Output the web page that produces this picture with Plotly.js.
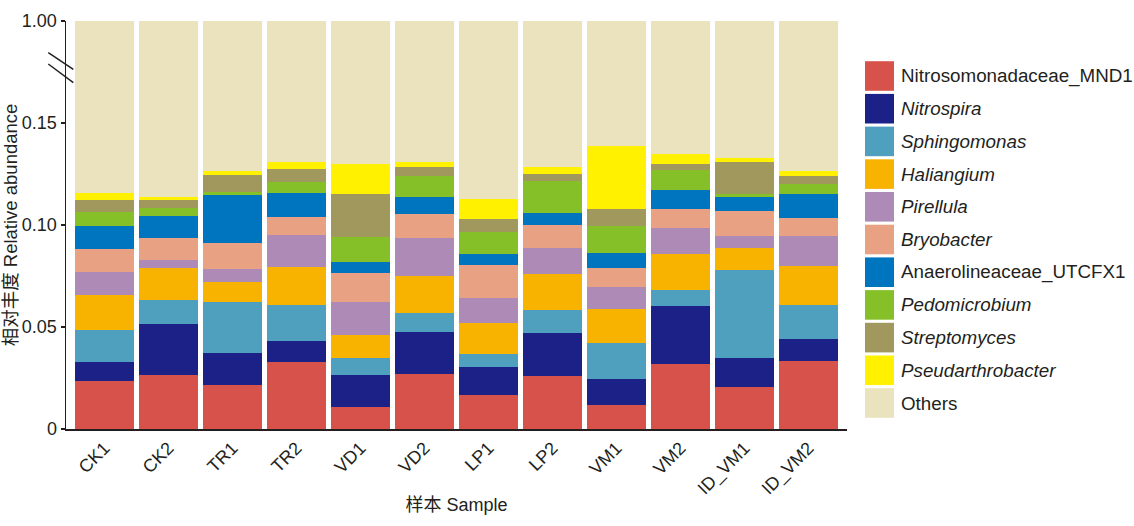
<!DOCTYPE html>
<html>
<head>
<meta charset="utf-8">
<script src="https://cdn.plot.ly/plotly-3.0.1.min.js"></script>
<style>
	html, body { margin: 0; padding: 0; background: #fff; }
	#plot { width: 1134px; height: 526px; }
</style>
</head>
<body>
<div id="plot"></div>
<script>
	// Samples and per-genus relative abundance.
	const samples = ['CK1', 'CK2', 'TR1', 'TR2', 'VD1', 'VD2', 'LP1', 'LP2', 'VM1', 'VM2', 'ID_VM1', 'ID_VM2'];

	const nitrosomonadaceae = [0.0237, 0.0266, 0.0214, 0.0328, 0.0109, 0.0271, 0.0168, 0.0259, 0.0116, 0.0320, 0.0204, 0.0331];
	const nitrospira        = [0.0093, 0.0249, 0.0158, 0.0104, 0.0157, 0.0205, 0.0135, 0.0212, 0.0127, 0.0285, 0.0143, 0.0109];
	const sphingomonas      = [0.0156, 0.0119, 0.0249, 0.0178, 0.0083, 0.0093, 0.0064, 0.0111, 0.0178, 0.0077, 0.0431, 0.0168];
	const haliangium        = [0.0173, 0.0155, 0.0098, 0.0184, 0.0111, 0.0183, 0.0153, 0.0178, 0.0168, 0.0177, 0.0108, 0.0193];
	const pirellula         = [0.0109, 0.0041, 0.0065, 0.0157, 0.0165, 0.0182, 0.0124, 0.0129, 0.0109, 0.0124, 0.0061, 0.0145];
	const bryobacter        = [0.0116, 0.0108, 0.0129, 0.0086, 0.0140, 0.0119, 0.0158, 0.0112, 0.0090, 0.0095, 0.0120, 0.0090];
	const anaerolineaceae   = [0.0111, 0.0106, 0.0232, 0.0119, 0.0055, 0.0084, 0.0056, 0.0056, 0.0075, 0.0095, 0.0071, 0.0115];
	const pedomicrobium     = [0.0068, 0.0040, 0.0016, 0.0056, 0.0121, 0.0101, 0.0107, 0.0160, 0.0132, 0.0096, 0.0013, 0.0049];
	const streptomyces      = [0.0059, 0.0041, 0.0085, 0.0062, 0.0210, 0.0045, 0.0066, 0.0034, 0.0085, 0.0031, 0.0157, 0.0038];
	const pseudarthrobacter = [0.0036, 0.0013, 0.0021, 0.0034, 0.0149, 0.0028, 0.0096, 0.0034, 0.0308, 0.0050, 0.0021, 0.0029];
	const others            = [0.8842, 0.8862, 0.8733, 0.8692, 0.8700, 0.8689, 0.8873, 0.8715, 0.8612, 0.8650, 0.8671, 0.8733];

	// Y tick labels (axis is broken: the top tick stands for 1.00).
	const yTickVals = [0, 0.05, 0.10, 0.15, 0.20];
	const yTickText = ['0', '0.05', '0.10', '0.15', '1.00'];

	const series = [
		{ name: 'Nitrosomonadaceae_MND1', values: nitrosomonadaceae, color: '#d6524a', italic: false },
		{ name: 'Nitrospira', values: nitrospira, color: '#1c2188', italic: true },
		{ name: 'Sphingomonas', values: sphingomonas, color: '#4f9fbe', italic: true },
		{ name: 'Haliangium', values: haliangium, color: '#f8b300', italic: true },
		{ name: 'Pirellula', values: pirellula, color: '#ae8ab6', italic: true },
		{ name: 'Bryobacter', values: bryobacter, color: '#e8a183', italic: true },
		{ name: 'Anaerolineaceae_UTCFX1', values: anaerolineaceae, color: '#0075bf', italic: false },
		{ name: 'Pedomicrobium', values: pedomicrobium, color: '#86c029', italic: true },
		{ name: 'Streptomyces', values: streptomyces, color: '#a0985c', italic: true },
		{ name: 'Pseudarthrobacter', values: pseudarthrobacter, color: '#fff100', italic: true },
		{ name: 'Others', values: others, color: '#eae3bd', italic: false }
	];

	const FONT = 'Liberation Sans, Arial, Noto Sans CJK SC, sans-serif';

	const traces = series.map(s => ({
		type: 'bar',
		x: samples,
		y: s.values,
		name: s.name,
		marker: { color: s.color, line: { width: 0 } },
		hoverinfo: 'x+y+name'
	}));

	// Hand-built legend with large swatches, stacked to the right of the plot.
	const shapes = [];
	const annotations = [];
	const plotW = 781, plotH = 408;
	series.forEach((s, i) => {
		const cy = 76 + 32.7 * i;            // pixel centre of the row
		const yc = (429 - cy) / plotH;
		const hh = 14.8 / plotH;
		shapes.push({
			type: 'rect', xref: 'paper', yref: 'paper',
			x0: (865 - 66) / plotW, x1: (894 - 66) / plotW,
			y0: yc - hh, y1: yc + hh,
			fillcolor: s.color, line: { width: 0 }
		});
		annotations.push({
			xref: 'paper', yref: 'paper',
			x: (899 - 66) / plotW, y: yc,
			xanchor: 'left', yanchor: 'middle',
			text: s.italic ? '<i>' + s.name + '</i>' : s.name,
			showarrow: false,
			font: { family: FONT, size: 18.8, color: '#231f20' }
		});
	});

	// Axis break marks.
	[[52.7, 69.3], [64, 82.7]].forEach(([ya, yb]) => {
		shapes.push({
			type: 'line', xref: 'paper', yref: 'paper',
			x0: (48.3 - 66) / plotW, x1: (73.3 - 66) / plotW,
			y0: (429 - ya) / plotH, y1: (429 - yb) / plotH,
			line: { color: '#231f20', width: 1.5 }
		});
	});

	const layout = {
		barmode: 'stack',
		bargap: 0.09,
		showlegend: false,
		width: 1134,
		height: 526,
		margin: { l: 66, r: 287, t: 21, b: 97 },
		paper_bgcolor: '#ffffff',
		plot_bgcolor: '#ffffff',
		font: { family: FONT, color: '#231f20' },
		xaxis: {
			type: 'category',
			range: [-0.6, 11.6],
			tickangle: -45,
			tickfont: { family: FONT, size: 18 },
			showline: true,
			linecolor: '#231f20',
			linewidth: 1.5,
			ticks: '',
			showgrid: false,
			zeroline: false,
			title: { text: '样本 Sample', font: { family: FONT, size: 18 }, standoff: 0 }
		},
		yaxis: {
			range: [0, 0.2],
			tickvals: yTickVals,
			ticktext: yTickText,
			tickfont: { family: FONT, size: 18 },
			showline: true,
			linecolor: '#231f20',
			linewidth: 1.5,
			ticks: 'outside',
			ticklen: 4,
			tickwidth: 1.5,
			tickcolor: '#231f20',
			showgrid: false,
			zeroline: false,
			title: { text: '相对丰度 Relative abundance', font: { family: FONT, size: 18.5 }, standoff: 4 }
		},
		shapes: shapes,
		annotations: annotations
	};

	Plotly.newPlot('plot', traces, layout, { displayModeBar: false, staticPlot: true });
</script>
</body>
</html>
